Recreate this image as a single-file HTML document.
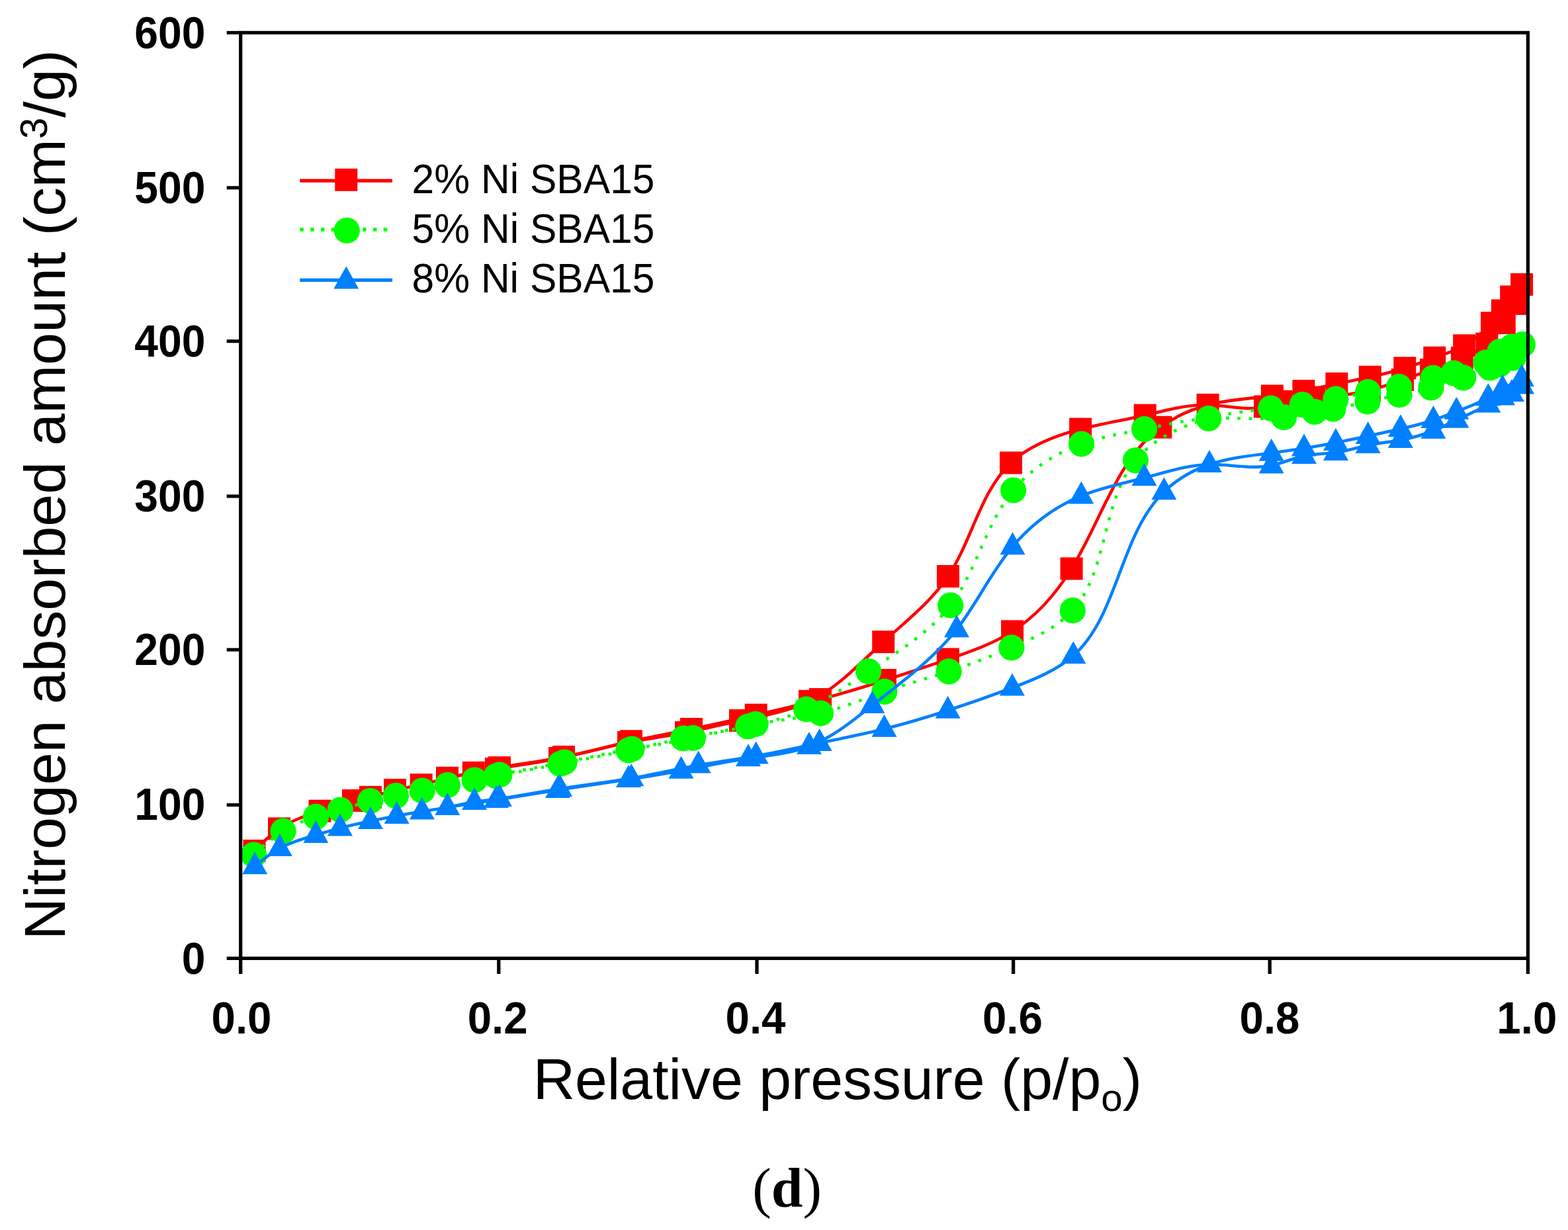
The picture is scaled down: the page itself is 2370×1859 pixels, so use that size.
<!DOCTYPE html>
<html><head><meta charset="utf-8"><title>Nitrogen adsorption isotherms</title>
<style>html,body{margin:0;padding:0;background:#fff;}body{width:2370px;height:1859px;overflow:hidden;position:relative;}svg{position:absolute;left:0;top:0;display:block;}</style>
</head><body>
<svg width="2370" height="1859" viewBox="0 0 2370 1859">
<path d="M384.5,1286 C396.4,1273.8 408.2,1261.6 422,1252.4 C440.4,1240.1 462.2,1233.1 483.5,1225.7 C500.3,1219.8 516.8,1213.7 534,1210 C542.6,1208.1 551.4,1206.9 560,1204.8 C572.5,1201.8 584.6,1197.1 597,1194 C610.1,1190.7 623.5,1189.1 636.7,1186.2 C649.9,1183.3 662.8,1179 676,1175.8 C689.1,1172.6 702.5,1170.4 715.8,1167.9 C728.9,1165.4 741.9,1162.6 755,1160.2 C787.2,1154.2 819.8,1150.3 852,1144 C886.2,1137.3 919.9,1127.9 954,1120.3 C984.2,1113.5 1014.7,1108.1 1045,1102 C1077.7,1095.4 1110.2,1088.1 1142.7,1080.6 C1175.2,1073.1 1207.7,1065.6 1240,1057 C1272.9,1048.2 1305.5,1038.4 1337.9,1028 C1369.6,1017.9 1401,1007.3 1432.8,996.4 C1466.5,984.9 1500.5,973.1 1530.1,954.3 C1566.5,931.2 1596.1,897.5 1619.6,859.4 C1665.1,785.6 1687.9,695.2 1754.3,645.7 C1775,630.3 1800,618.8 1825.6,612 C1857.5,603.5 1890.4,602.3 1922.9,598.5 C1938.8,596.6 1954.7,594.1 1970.4,591 C1987.1,587.7 2003.7,583.6 2020.4,580 C2037.2,576.4 2054,573.4 2070.8,569.8 C2088.5,566 2106.1,561.7 2123.3,556.3 C2138.4,551.6 2153.3,546 2168.3,540.7 C2183.6,535.3 2199.2,530.2 2213.2,522.3 C2228.8,513.5 2242.4,501.2 2255,488.2 C2260.7,482.3 2266.3,476.2 2270.9,469.5 C2275.6,462.7 2279.4,455.2 2284.2,448.5 C2288.9,441.9 2294.5,435.9 2300.1,430" fill="none" stroke="#ff0000" stroke-width="4.6" stroke-linejoin="round"/>
<path d="M2300.1,430 C2297.1,439.8 2294.1,449.7 2290,459 C2285.6,469.1 2279.9,478.6 2273.8,488 C2266.2,499.6 2257.9,511 2247.4,519.7 C2236.5,528.8 2223.2,535.1 2209.9,540.8 C2194.3,547.5 2178.7,553.4 2163,559 C2148.7,564.1 2134.4,569 2120,574 C2103.4,579.8 2086.9,585.8 2070,590 C2042.7,596.8 2014.4,599.2 1986,600.6 C1969.1,601.5 1952.1,602 1936,606.7 C1927.9,609.1 1920.1,612.5 1912,614.5 C1884.4,621.5 1854.6,612.7 1825.6,612 C1793.3,611.2 1761.9,620.6 1730.7,627.7 C1698.3,635.1 1666,640 1633.1,648.6 C1594.6,658.6 1555.4,673.7 1528,699.5 C1481.9,742.9 1469,816.8 1433,871 C1407.4,909.5 1370.1,938.1 1335.2,970.1 C1299.4,1002.9 1266,1039.4 1224,1059.7 C1192,1075.2 1154.9,1081.3 1119,1089 C1091.4,1094.9 1064.4,1101.8 1037,1107 C1008.2,1112.5 978.9,1116.2 950,1122 C915.1,1129 880.8,1138.9 846,1146 C814.2,1152.5 782,1156.7 750,1162 C725.2,1166.1 700.6,1171 676,1175.8" fill="none" stroke="#ff0000" stroke-width="4.6" stroke-linejoin="round"/>
<rect x="367.5" y="1269" width="34" height="34" fill="#ff0000"/>
<rect x="405" y="1235.4" width="34" height="34" fill="#ff0000"/>
<rect x="466.5" y="1208.7" width="34" height="34" fill="#ff0000"/>
<rect x="517" y="1193" width="34" height="34" fill="#ff0000"/>
<rect x="543" y="1187.8" width="34" height="34" fill="#ff0000"/>
<rect x="580" y="1177" width="34" height="34" fill="#ff0000"/>
<rect x="619.7" y="1169.2" width="34" height="34" fill="#ff0000"/>
<rect x="659" y="1158.8" width="34" height="34" fill="#ff0000"/>
<rect x="698.8" y="1150.9" width="34" height="34" fill="#ff0000"/>
<rect x="738" y="1143.2" width="34" height="34" fill="#ff0000"/>
<rect x="835" y="1127" width="34" height="34" fill="#ff0000"/>
<rect x="937" y="1103.3" width="34" height="34" fill="#ff0000"/>
<rect x="1028" y="1085" width="34" height="34" fill="#ff0000"/>
<rect x="1125.7" y="1063.6" width="34" height="34" fill="#ff0000"/>
<rect x="1223" y="1040" width="34" height="34" fill="#ff0000"/>
<rect x="1320.9" y="1011" width="34" height="34" fill="#ff0000"/>
<rect x="1415.8" y="979.4" width="34" height="34" fill="#ff0000"/>
<rect x="1513.1" y="937.3" width="34" height="34" fill="#ff0000"/>
<rect x="1602.6" y="842.4" width="34" height="34" fill="#ff0000"/>
<rect x="1737.3" y="628.7" width="34" height="34" fill="#ff0000"/>
<rect x="1808.6" y="595" width="34" height="34" fill="#ff0000"/>
<rect x="1905.9" y="581.5" width="34" height="34" fill="#ff0000"/>
<rect x="1953.4" y="574" width="34" height="34" fill="#ff0000"/>
<rect x="2003.4" y="563" width="34" height="34" fill="#ff0000"/>
<rect x="2053.8" y="552.8" width="34" height="34" fill="#ff0000"/>
<rect x="2106.3" y="539.3" width="34" height="34" fill="#ff0000"/>
<rect x="2151.3" y="523.7" width="34" height="34" fill="#ff0000"/>
<rect x="2196.2" y="505.3" width="34" height="34" fill="#ff0000"/>
<rect x="2238" y="471.2" width="34" height="34" fill="#ff0000"/>
<rect x="2253.9" y="452.5" width="34" height="34" fill="#ff0000"/>
<rect x="2267.2" y="431.5" width="34" height="34" fill="#ff0000"/>
<rect x="2283.1" y="413" width="34" height="34" fill="#ff0000"/>
<rect x="2273" y="442" width="34" height="34" fill="#ff0000"/>
<rect x="2256.8" y="471" width="34" height="34" fill="#ff0000"/>
<rect x="2230.4" y="502.7" width="34" height="34" fill="#ff0000"/>
<rect x="2192.9" y="523.8" width="34" height="34" fill="#ff0000"/>
<rect x="2146" y="542" width="34" height="34" fill="#ff0000"/>
<rect x="2103" y="557" width="34" height="34" fill="#ff0000"/>
<rect x="2053" y="573" width="34" height="34" fill="#ff0000"/>
<rect x="1969" y="583.6" width="34" height="34" fill="#ff0000"/>
<rect x="1919" y="589.7" width="34" height="34" fill="#ff0000"/>
<rect x="1895" y="597.5" width="34" height="34" fill="#ff0000"/>
<rect x="1713.7" y="610.7" width="34" height="34" fill="#ff0000"/>
<rect x="1616.1" y="631.6" width="34" height="34" fill="#ff0000"/>
<rect x="1511" y="682.5" width="34" height="34" fill="#ff0000"/>
<rect x="1416" y="854" width="34" height="34" fill="#ff0000"/>
<rect x="1318.2" y="953.1" width="34" height="34" fill="#ff0000"/>
<rect x="1207" y="1042.7" width="34" height="34" fill="#ff0000"/>
<rect x="1102" y="1072" width="34" height="34" fill="#ff0000"/>
<rect x="1020" y="1090" width="34" height="34" fill="#ff0000"/>
<rect x="933" y="1105" width="34" height="34" fill="#ff0000"/>
<rect x="829" y="1129" width="34" height="34" fill="#ff0000"/>
<rect x="733" y="1145" width="34" height="34" fill="#ff0000"/>
<path d="M383.5,1292 C397.7,1279 411.9,1266 428,1256 C443.2,1246.6 460.2,1239.7 477.4,1234.4 C489.7,1230.6 502,1227.6 514.3,1224 C529.4,1219.6 544.3,1214.4 559.5,1210.5 C572.3,1207.2 585.4,1204.9 598.4,1202.6 C611.7,1200.2 625,1197.8 638.2,1195 C650.9,1192.3 663.6,1189.2 676.3,1186.6 C689.9,1183.8 703.6,1181.6 717.2,1179 C729.8,1176.5 742.4,1173.7 755,1171 C787.5,1164.1 820.3,1158.4 853,1152 C887,1145.4 920.9,1138.1 955,1132 C985.8,1126.5 1016.9,1121.9 1047.5,1115.5 C1079.1,1108.9 1110.2,1100.2 1142,1094.5 C1174.8,1088.6 1208.3,1085.9 1240.5,1078 C1273.3,1069.9 1304.7,1056.5 1336.8,1045.3 C1369,1034.1 1402,1025.3 1434.1,1014.8 C1466,1004.4 1497,992.3 1528.9,978.8 C1562.9,964.4 1598.1,948.2 1621.3,922.7 C1674.2,864.6 1665.6,757.7 1716.4,695.8 C1742.7,663.8 1784.9,643.7 1826.8,632.5 C1858.2,624.1 1889.3,620.6 1920.8,617.2 C1936.6,615.5 1952.5,613.8 1968.3,611.7 C1985.3,609.4 2002.2,606.7 2019,603.2 C2035.2,599.8 2051.2,595.8 2067.5,592.7 C2083.2,589.8 2099,587.7 2114.6,584.5 C2131.9,580.9 2149,575.8 2166,571.3 C2176.2,568.6 2186.5,566.2 2197,564 C2214.1,560.4 2231.9,557.5 2246,548 C2253.3,543.1 2259.5,536.5 2267,531.7 C2272.5,528.2 2278.7,525.7 2285,524 C2290.4,522.5 2295.9,521.6 2301.4,520.7" fill="none" stroke="#00ff00" stroke-width="4.6" stroke-dasharray="4.6 12.7" stroke-linejoin="round"/>
<path d="M2301.4,520.7 C2297.3,528.3 2293.2,535.9 2287,541 C2281.2,545.8 2273.4,548.4 2266,551 C2261.3,552.7 2256.6,554.3 2252,556 C2238.6,560.9 2225.2,566 2211.7,570.8 C2195.6,576.5 2179.4,581.7 2163,586 C2147.1,590.1 2131.1,593.4 2115,596.7 C2099,600 2083,603.4 2067,607 C2049.7,610.9 2032.5,615 2015,618 C2005.7,619.6 1996.3,620.9 1987,622.5 C1971.5,625.2 1956.1,628.8 1940.5,630.7 C1903,635.3 1864.6,630.2 1826.8,632.5 C1794.1,634.5 1761.8,642.2 1729.5,648.6 C1697.5,654.9 1665.4,660 1634.6,671 C1595.2,685.1 1557.9,709 1531.6,741 C1489.8,791.9 1475.8,863.5 1436.7,914.9 C1405.2,956.2 1357.5,984.5 1312.6,1014.6 C1281.5,1035.4 1251.8,1057.2 1218.5,1072 C1190.9,1084.3 1160.8,1091.9 1130.7,1098 C1097.9,1104.6 1065.2,1109.6 1032.6,1116 C1005,1121.5 977.6,1128 950,1134 C915.8,1141.4 881.4,1147.9 847,1154.5 C814.7,1160.7 782.4,1166.9 750,1173 C725.4,1177.6 700.9,1182.1 676.3,1186.6" fill="none" stroke="#00ff00" stroke-width="4.6" stroke-dasharray="4.6 12.7" stroke-linejoin="round"/>
<circle cx="383.5" cy="1292" r="19.6" fill="#00ff00"/>
<circle cx="428" cy="1256" r="19.6" fill="#00ff00"/>
<circle cx="477.4" cy="1234.4" r="19.6" fill="#00ff00"/>
<circle cx="514.3" cy="1224" r="19.6" fill="#00ff00"/>
<circle cx="559.5" cy="1210.5" r="19.6" fill="#00ff00"/>
<circle cx="598.4" cy="1202.6" r="19.6" fill="#00ff00"/>
<circle cx="638.2" cy="1195" r="19.6" fill="#00ff00"/>
<circle cx="676.3" cy="1186.6" r="19.6" fill="#00ff00"/>
<circle cx="717.2" cy="1179" r="19.6" fill="#00ff00"/>
<circle cx="755" cy="1171" r="19.6" fill="#00ff00"/>
<circle cx="853" cy="1152" r="19.6" fill="#00ff00"/>
<circle cx="955" cy="1132" r="19.6" fill="#00ff00"/>
<circle cx="1047.5" cy="1115.5" r="19.6" fill="#00ff00"/>
<circle cx="1142" cy="1094.5" r="19.6" fill="#00ff00"/>
<circle cx="1240.5" cy="1078" r="19.6" fill="#00ff00"/>
<circle cx="1336.8" cy="1045.3" r="19.6" fill="#00ff00"/>
<circle cx="1434.1" cy="1014.8" r="19.6" fill="#00ff00"/>
<circle cx="1528.9" cy="978.8" r="19.6" fill="#00ff00"/>
<circle cx="1621.3" cy="922.7" r="19.6" fill="#00ff00"/>
<circle cx="1716.4" cy="695.8" r="19.6" fill="#00ff00"/>
<circle cx="1826.8" cy="632.5" r="19.6" fill="#00ff00"/>
<circle cx="1920.8" cy="617.2" r="19.6" fill="#00ff00"/>
<circle cx="1968.3" cy="611.7" r="19.6" fill="#00ff00"/>
<circle cx="2019" cy="603.2" r="19.6" fill="#00ff00"/>
<circle cx="2067.5" cy="592.7" r="19.6" fill="#00ff00"/>
<circle cx="2114.6" cy="584.5" r="19.6" fill="#00ff00"/>
<circle cx="2166" cy="571.3" r="19.6" fill="#00ff00"/>
<circle cx="2197" cy="564" r="19.6" fill="#00ff00"/>
<circle cx="2246" cy="548" r="19.6" fill="#00ff00"/>
<circle cx="2267" cy="531.7" r="19.6" fill="#00ff00"/>
<circle cx="2285" cy="524" r="19.6" fill="#00ff00"/>
<circle cx="2301.4" cy="520.7" r="19.6" fill="#00ff00"/>
<circle cx="2287" cy="541" r="19.6" fill="#00ff00"/>
<circle cx="2266" cy="551" r="19.6" fill="#00ff00"/>
<circle cx="2252" cy="556" r="19.6" fill="#00ff00"/>
<circle cx="2211.7" cy="570.8" r="19.6" fill="#00ff00"/>
<circle cx="2163" cy="586" r="19.6" fill="#00ff00"/>
<circle cx="2115" cy="596.7" r="19.6" fill="#00ff00"/>
<circle cx="2067" cy="607" r="19.6" fill="#00ff00"/>
<circle cx="2015" cy="618" r="19.6" fill="#00ff00"/>
<circle cx="1987" cy="622.5" r="19.6" fill="#00ff00"/>
<circle cx="1940.5" cy="630.7" r="19.6" fill="#00ff00"/>
<circle cx="1729.5" cy="648.6" r="19.6" fill="#00ff00"/>
<circle cx="1634.6" cy="671" r="19.6" fill="#00ff00"/>
<circle cx="1531.6" cy="741" r="19.6" fill="#00ff00"/>
<circle cx="1436.7" cy="914.9" r="19.6" fill="#00ff00"/>
<circle cx="1312.6" cy="1014.6" r="19.6" fill="#00ff00"/>
<circle cx="1218.5" cy="1072" r="19.6" fill="#00ff00"/>
<circle cx="1130.7" cy="1098" r="19.6" fill="#00ff00"/>
<circle cx="1032.6" cy="1116" r="19.6" fill="#00ff00"/>
<circle cx="950" cy="1134" r="19.6" fill="#00ff00"/>
<circle cx="847" cy="1154.5" r="19.6" fill="#00ff00"/>
<circle cx="750" cy="1173" r="19.6" fill="#00ff00"/>
<path d="M385.2,1309.3 C397.3,1299.3 409.3,1289.4 422.8,1282 C439.7,1272.7 458.7,1267.5 477.4,1262 C489.6,1258.4 501.7,1254.7 514,1251.5 C529.2,1247.5 544.6,1244.2 560,1241 C573.2,1238.2 586.4,1235.4 599.7,1233 C612.4,1230.7 625.1,1228.6 637.9,1226.6 C650.7,1224.5 663.6,1222.5 676.3,1220 C689.9,1217.4 703.4,1214.2 717,1212 C729.6,1209.9 742.3,1208.7 755,1207 C785.6,1203 815.8,1196.8 846.2,1192 C882.2,1186.3 918.4,1182.5 954.3,1176.3 C988.2,1170.5 1021.7,1162.5 1055.6,1156.5 C1084.5,1151.3 1113.7,1147.6 1142.7,1142.5 C1174.8,1136.9 1206.7,1129.7 1238.6,1123 C1271.3,1116.1 1304,1109.7 1336.5,1101.7 C1368.9,1093.7 1401,1084 1432.6,1073.8 C1465.1,1063.2 1497.1,1052 1529.9,1039.6 C1563.1,1027 1597.2,1013.2 1622.3,991 C1690.4,930.7 1692.2,808.7 1759.4,743.2 C1778.4,724.7 1802.6,710.7 1828,702 C1858.2,691.6 1890.1,688.7 1921.7,684.7 C1938.2,682.6 1954.6,680.3 1971,677.6 C1987,675 2003,672.1 2019,669 C2035.3,665.8 2051.5,662.5 2067.7,659 C2084.1,655.5 2100.5,651.9 2116.9,648.2 C2133.6,644.4 2150.3,640.4 2166.5,635 C2178.3,631 2189.8,626.3 2201.4,621.8 C2217.7,615.5 2234.2,609.7 2249.4,601.2 C2256.7,597.1 2263.8,592.4 2271,588 C2280.5,582.3 2290.3,577.3 2300.1,572.2" fill="none" stroke="#0080ff" stroke-width="4.6" stroke-linejoin="round"/>
<path d="M2300.1,583.4 C2295.3,587.8 2290.6,592.1 2285,595 C2280.6,597.3 2275.7,598.7 2271,600.5 C2263.4,603.5 2256.5,607.7 2249.4,611.6 C2233.8,620.2 2217.5,627.1 2201.4,634.8 C2189.8,640.3 2178.4,646.2 2166.5,651 C2150.6,657.4 2133.8,661.9 2116.9,665 C2100.5,668 2084,669.6 2067.7,673 C2051.4,676.4 2035.5,681.7 2019,684 C2003.1,686.2 1986.7,685.7 1971,689 C1954.3,692.5 1938.3,700.2 1921.7,703.6 C1891.5,709.8 1859.2,701.4 1828,702 C1794.5,702.7 1762.2,713.7 1729.5,722.3 C1697.3,730.8 1664.8,737 1634.3,749.5 C1594.6,765.8 1558.4,793 1530.5,826.2 C1497.9,865 1476.6,912.1 1446,951.2 C1411.2,995.7 1364.4,1029.8 1318.5,1066 C1288,1090 1257.9,1114.9 1223,1128 C1194.2,1138.8 1162.2,1141.7 1131,1146.3 C1096.6,1151.4 1063.2,1158.6 1029.5,1164.8 C1003.1,1169.7 976.6,1174 950,1178 C914.3,1183.4 878.6,1188.4 843,1194 C812,1198.9 781,1204.1 750,1209 C725.5,1212.8 700.9,1216.4 676.3,1220" fill="none" stroke="#0080ff" stroke-width="4.6" stroke-linejoin="round"/>
<path d="M385.2,1287.3 L404.2,1321.3 L366.2,1321.3Z" fill="#0080ff"/>
<path d="M422.8,1260 L441.8,1294 L403.8,1294Z" fill="#0080ff"/>
<path d="M477.4,1240 L496.4,1274 L458.4,1274Z" fill="#0080ff"/>
<path d="M514,1229.5 L533,1263.5 L495,1263.5Z" fill="#0080ff"/>
<path d="M560,1219 L579,1253 L541,1253Z" fill="#0080ff"/>
<path d="M599.7,1211 L618.7,1245 L580.7,1245Z" fill="#0080ff"/>
<path d="M637.9,1204.6 L656.9,1238.6 L618.9,1238.6Z" fill="#0080ff"/>
<path d="M676.3,1198 L695.3,1232 L657.3,1232Z" fill="#0080ff"/>
<path d="M717,1190 L736,1224 L698,1224Z" fill="#0080ff"/>
<path d="M755,1185 L774,1219 L736,1219Z" fill="#0080ff"/>
<path d="M846.2,1170 L865.2,1204 L827.2,1204Z" fill="#0080ff"/>
<path d="M954.3,1154.3 L973.3,1188.3 L935.3,1188.3Z" fill="#0080ff"/>
<path d="M1055.6,1134.5 L1074.6,1168.5 L1036.6,1168.5Z" fill="#0080ff"/>
<path d="M1142.7,1120.5 L1161.7,1154.5 L1123.7,1154.5Z" fill="#0080ff"/>
<path d="M1238.6,1101 L1257.6,1135 L1219.6,1135Z" fill="#0080ff"/>
<path d="M1336.5,1079.7 L1355.5,1113.7 L1317.5,1113.7Z" fill="#0080ff"/>
<path d="M1432.6,1051.8 L1451.6,1085.8 L1413.6,1085.8Z" fill="#0080ff"/>
<path d="M1529.9,1017.6 L1548.9,1051.6 L1510.9,1051.6Z" fill="#0080ff"/>
<path d="M1622.3,969 L1641.3,1003 L1603.3,1003Z" fill="#0080ff"/>
<path d="M1759.4,721.2 L1778.4,755.2 L1740.4,755.2Z" fill="#0080ff"/>
<path d="M1828,680 L1847,714 L1809,714Z" fill="#0080ff"/>
<path d="M1921.7,662.7 L1940.7,696.7 L1902.7,696.7Z" fill="#0080ff"/>
<path d="M1971,655.6 L1990,689.6 L1952,689.6Z" fill="#0080ff"/>
<path d="M2019,647 L2038,681 L2000,681Z" fill="#0080ff"/>
<path d="M2067.7,637 L2086.7,671 L2048.7,671Z" fill="#0080ff"/>
<path d="M2116.9,626.2 L2135.9,660.2 L2097.9,660.2Z" fill="#0080ff"/>
<path d="M2166.5,613 L2185.5,647 L2147.5,647Z" fill="#0080ff"/>
<path d="M2201.4,599.8 L2220.4,633.8 L2182.4,633.8Z" fill="#0080ff"/>
<path d="M2249.4,579.2 L2268.4,613.2 L2230.4,613.2Z" fill="#0080ff"/>
<path d="M2271,566 L2290,600 L2252,600Z" fill="#0080ff"/>
<path d="M2300.1,550.2 L2319.1,584.2 L2281.1,584.2Z" fill="#0080ff"/>
<path d="M2300.1,561.4 L2319.1,595.4 L2281.1,595.4Z" fill="#0080ff"/>
<path d="M2285,573 L2304,607 L2266,607Z" fill="#0080ff"/>
<path d="M2271,578.5 L2290,612.5 L2252,612.5Z" fill="#0080ff"/>
<path d="M2249.4,589.6 L2268.4,623.6 L2230.4,623.6Z" fill="#0080ff"/>
<path d="M2201.4,612.8 L2220.4,646.8 L2182.4,646.8Z" fill="#0080ff"/>
<path d="M2166.5,629 L2185.5,663 L2147.5,663Z" fill="#0080ff"/>
<path d="M2116.9,643 L2135.9,677 L2097.9,677Z" fill="#0080ff"/>
<path d="M2067.7,651 L2086.7,685 L2048.7,685Z" fill="#0080ff"/>
<path d="M2019,662 L2038,696 L2000,696Z" fill="#0080ff"/>
<path d="M1971,667 L1990,701 L1952,701Z" fill="#0080ff"/>
<path d="M1921.7,681.6 L1940.7,715.6 L1902.7,715.6Z" fill="#0080ff"/>
<path d="M1729.5,700.3 L1748.5,734.3 L1710.5,734.3Z" fill="#0080ff"/>
<path d="M1634.3,727.5 L1653.3,761.5 L1615.3,761.5Z" fill="#0080ff"/>
<path d="M1530.5,804.2 L1549.5,838.2 L1511.5,838.2Z" fill="#0080ff"/>
<path d="M1446,929.2 L1465,963.2 L1427,963.2Z" fill="#0080ff"/>
<path d="M1318.5,1044 L1337.5,1078 L1299.5,1078Z" fill="#0080ff"/>
<path d="M1223,1106 L1242,1140 L1204,1140Z" fill="#0080ff"/>
<path d="M1131,1124.3 L1150,1158.3 L1112,1158.3Z" fill="#0080ff"/>
<path d="M1029.5,1142.8 L1048.5,1176.8 L1010.5,1176.8Z" fill="#0080ff"/>
<path d="M950,1156 L969,1190 L931,1190Z" fill="#0080ff"/>
<path d="M843,1172 L862,1206 L824,1206Z" fill="#0080ff"/>
<path d="M750,1187 L769,1221 L731,1221Z" fill="#0080ff"/>
<rect x="363.7" y="49.4" width="1945.7" height="1399" fill="none" stroke="#000" stroke-width="5.2"/>
<line x1="342.7" y1="49.4" x2="363.7" y2="49.4" stroke="#000" stroke-width="5.1"/>
<line x1="342.7" y1="283.8" x2="363.7" y2="283.8" stroke="#000" stroke-width="5.1"/>
<line x1="342.7" y1="515.7" x2="363.7" y2="515.7" stroke="#000" stroke-width="5.1"/>
<line x1="342.7" y1="750.0" x2="363.7" y2="750.0" stroke="#000" stroke-width="5.1"/>
<line x1="342.7" y1="982.0" x2="363.7" y2="982.0" stroke="#000" stroke-width="5.1"/>
<line x1="342.7" y1="1216.6" x2="363.7" y2="1216.6" stroke="#000" stroke-width="5.1"/>
<line x1="342.7" y1="1448.4" x2="363.7" y2="1448.4" stroke="#000" stroke-width="5.1"/>
<line x1="363.7" y1="1448.4" x2="363.7" y2="1472" stroke="#000" stroke-width="5.3"/>
<line x1="753.8" y1="1448.4" x2="753.8" y2="1472" stroke="#000" stroke-width="5.3"/>
<line x1="1144.0" y1="1448.4" x2="1144.0" y2="1472" stroke="#000" stroke-width="5.3"/>
<line x1="1531.6" y1="1448.4" x2="1531.6" y2="1472" stroke="#000" stroke-width="5.3"/>
<line x1="1919.2" y1="1448.4" x2="1919.2" y2="1472" stroke="#000" stroke-width="5.3"/>
<line x1="2309.4" y1="1448.4" x2="2309.4" y2="1472" stroke="#000" stroke-width="5.3"/>
<text transform="translate(310.35,73.12) scale(0.98,1.0444)" font-family="Liberation Sans, Arial, sans-serif" font-weight="bold" font-size="65.5px" text-anchor="end" fill="#000">600</text>
<text transform="translate(310.35,306.89) scale(0.98,1.0444)" font-family="Liberation Sans, Arial, sans-serif" font-weight="bold" font-size="65.5px" text-anchor="end" fill="#000">500</text>
<text transform="translate(310.35,538.69) scale(0.98,1.0444)" font-family="Liberation Sans, Arial, sans-serif" font-weight="bold" font-size="65.5px" text-anchor="end" fill="#000">400</text>
<text transform="translate(310.35,773.3) scale(0.98,1.0444)" font-family="Liberation Sans, Arial, sans-serif" font-weight="bold" font-size="65.5px" text-anchor="end" fill="#000">300</text>
<text transform="translate(310.35,1005.3) scale(0.98,1.0444)" font-family="Liberation Sans, Arial, sans-serif" font-weight="bold" font-size="65.5px" text-anchor="end" fill="#000">200</text>
<text transform="translate(310.35,1239.48) scale(0.98,1.0444)" font-family="Liberation Sans, Arial, sans-serif" font-weight="bold" font-size="65.5px" text-anchor="end" fill="#000">100</text>
<text transform="translate(310.34,1472.12) scale(0.98,1.0444)" font-family="Liberation Sans, Arial, sans-serif" font-weight="bold" font-size="65.5px" text-anchor="end" fill="#000">0</text>
<text transform="translate(365.0,1561.78) scale(1.0,1.045)" font-family="Liberation Sans, Arial, sans-serif" font-weight="bold" font-size="65.5px" text-anchor="middle" fill="#000">0.0</text>
<text transform="translate(752.2,1561.78) scale(1.0,1.045)" font-family="Liberation Sans, Arial, sans-serif" font-weight="bold" font-size="65.5px" text-anchor="middle" fill="#000">0.2</text>
<text transform="translate(1142.0,1561.78) scale(1.0,1.045)" font-family="Liberation Sans, Arial, sans-serif" font-weight="bold" font-size="65.5px" text-anchor="middle" fill="#000">0.4</text>
<text transform="translate(1530.4,1561.78) scale(1.0,1.045)" font-family="Liberation Sans, Arial, sans-serif" font-weight="bold" font-size="65.5px" text-anchor="middle" fill="#000">0.6</text>
<text transform="translate(1919.0,1561.78) scale(1.0,1.045)" font-family="Liberation Sans, Arial, sans-serif" font-weight="bold" font-size="65.5px" text-anchor="middle" fill="#000">0.8</text>
<text transform="translate(2307.8,1561.78) scale(1.0,1.045)" font-family="Liberation Sans, Arial, sans-serif" font-weight="bold" font-size="65.5px" text-anchor="middle" fill="#000">1.0</text>
<text transform="translate(805.67,1661.48) scale(1.0045,1.0012)" font-family="Liberation Sans, Arial, sans-serif" font-size="87.4px" fill="#000">Relative pressure (p/p<tspan font-size="58px" dy="17.5">o</tspan><tspan dy="-17.5">)</tspan></text>
<text transform="translate(97.5,1420.59) scale(1.0,0.9981) rotate(-90)" font-family="Liberation Sans, Arial, sans-serif" font-size="88px" fill="#000">Nitrogen absorbed amount (cm<tspan font-size="58px" dy="-27">3</tspan><tspan dy="27">/g)</tspan></text>
<text transform="translate(622.54,291.5) scale(0.985,1.023)" font-family="Liberation Sans, Arial, sans-serif" font-size="61.5px" fill="#000">2% Ni SBA15</text>
<text transform="translate(622.54,367.3) scale(0.985,1.0113)" font-family="Liberation Sans, Arial, sans-serif" font-size="61.5px" fill="#000">5% Ni SBA15</text>
<text transform="translate(622.54,442.1) scale(0.985,1.0159)" font-family="Liberation Sans, Arial, sans-serif" font-size="61.5px" fill="#000">8% Ni SBA15</text>
<text transform="translate(1137.23,1823.81) scale(0.968,0.9519)" font-family="Liberation Serif, Times New Roman, serif" font-weight="bold" font-size="88.5px" fill="#000"><tspan font-weight="normal">(</tspan>d<tspan font-weight="normal">)</tspan></text>
<line x1="453.3" y1="273.2" x2="593" y2="273.2" stroke="#ff0000" stroke-width="5.3"/>
<rect x="506.3" y="254.8" width="34" height="34" fill="#ff0000"/>
<line x1="453.3" y1="347.0" x2="588.5" y2="347.0" stroke="#00ff00" stroke-width="5.3" stroke-dasharray="5.5 10.3"/>
<circle cx="524.3" cy="348.4" r="19.6" fill="#00ff00"/>
<line x1="453.3" y1="423.4" x2="593" y2="423.4" stroke="#0080ff" stroke-width="5.3"/>
<path d="M523.3,402.4 L542.3,436.4 L504.3,436.4Z" fill="#0080ff"/>
</svg>
</body></html>
